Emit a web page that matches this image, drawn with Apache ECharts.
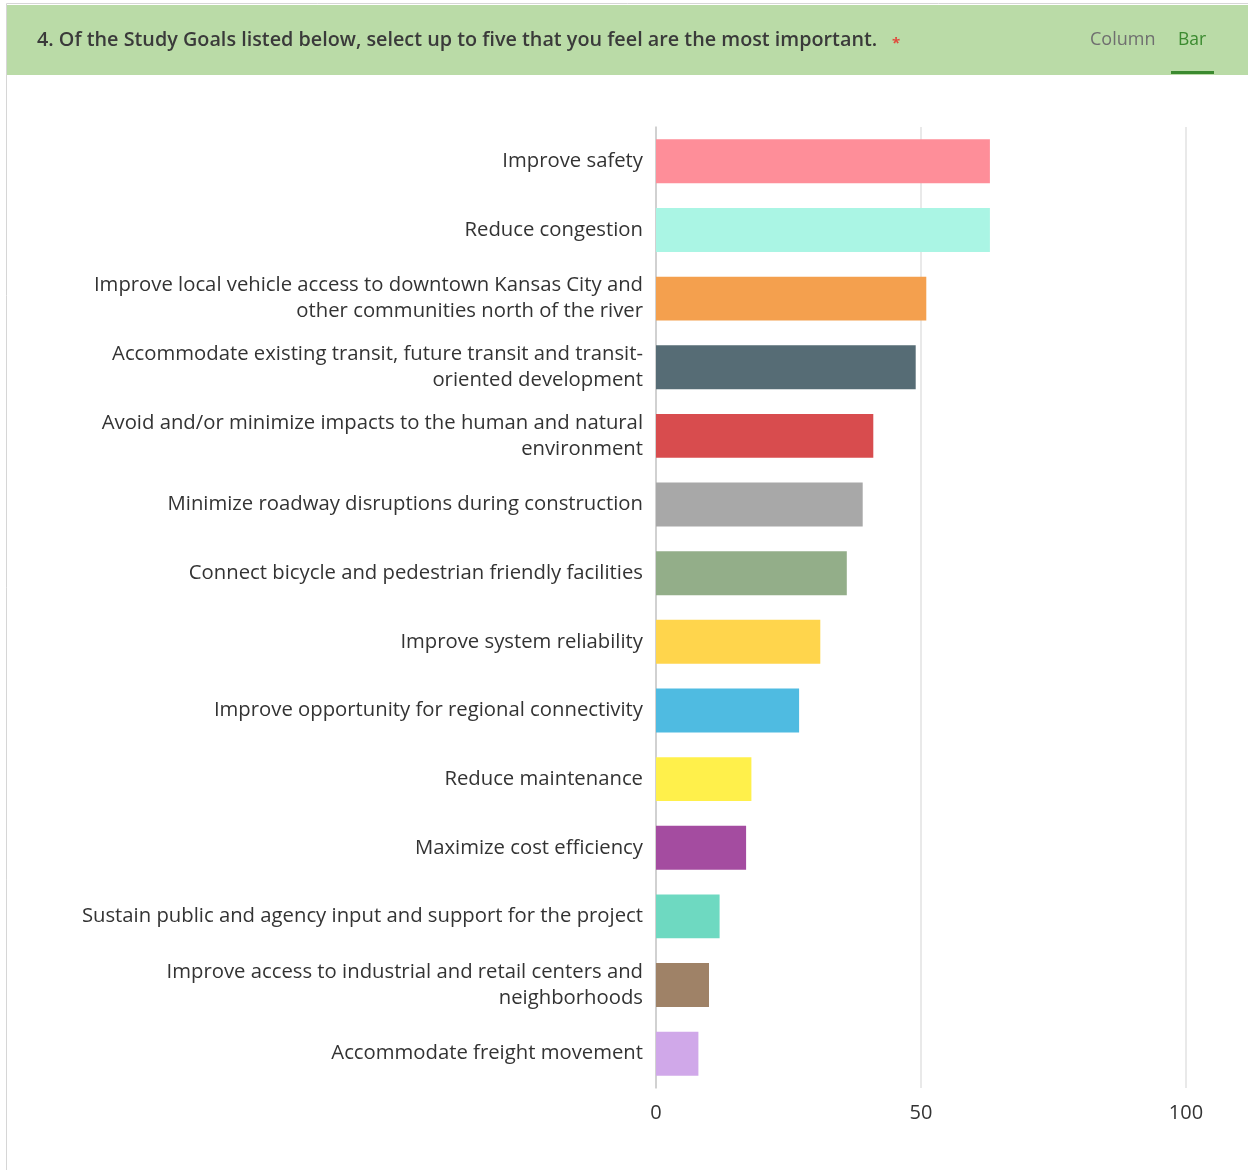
<!DOCTYPE html>
<html>
<head>
<meta charset="utf-8">
<script src="https://cdn.jsdelivr.net/npm/echarts@6/dist/echarts.min.js"></script>
<style>
  html, body { margin: 0; padding: 0; background: #fff; }
  #chart { width: 1248px; height: 1170px; }
</style>
</head>
<body>
<div id="chart"></div>
<script>
// Survey question 4: number of respondents choosing each study goal
const questionText = '4. Of the Study Goals listed below, select up to five that you feel are the most important.';

const goals = [
  'Improve safety',
  'Reduce congestion',
  'Improve local vehicle access to downtown Kansas City and\nother communities north of the river',
  'Accommodate existing transit, future transit and transit-\noriented development',
  'Avoid and/or minimize impacts to the human and natural\nenvironment',
  'Minimize roadway disruptions during construction',
  'Connect bicycle and pedestrian friendly facilities',
  'Improve system reliability',
  'Improve opportunity for regional connectivity',
  'Reduce maintenance',
  'Maximize cost efficiency',
  'Sustain public and agency input and support for the project',
  'Improve access to industrial and retail centers and\nneighborhoods',
  'Accommodate freight movement'
];

const responses = [63, 63, 51, 49, 41, 39, 36, 31, 27, 18, 17, 12, 10, 8];

const barColors = [
  '#fe8e99', '#aaf5e4', '#f4a04e', '#566c75', '#d84c4e', '#a8a8a8', '#93ae89',
  '#ffd54c', '#4fbbe1', '#fff04b', '#a44ca0', '#6ed9c1', '#9f8267', '#d0a8e9'
];

const xTicks = [0, 50, 100];

const labelFont = '"Open Sans", Lato, sans-serif';

const chart = echarts.init(document.getElementById('chart'), null, { renderer: 'canvas' });

chart.setOption({
  animation: false,
  backgroundColor: '#ffffff',
  textStyle: { fontFamily: labelFont },
  graphic: [
    { type: 'rect', shape: { x: 6.5, y: 3.5, width: 1260, height: 1180 },
      style: { fill: 'none', stroke: '#d6d6d6', lineWidth: 1 }, silent: true },
    { type: 'rect', shape: { x: 7, y: 5, width: 1241, height: 70 },
      style: { fill: '#badba7' }, silent: true },
    { type: 'text', x: 37, y: 40,
      style: { text: questionText, fontFamily: labelFont, fontSize: 19.8, fontWeight: 600,
               fill: '#3a3a3a', verticalAlign: 'middle' } },
    { type: 'text', x: 892, y: 44,
      style: { text: '*', fontFamily: labelFont, fontSize: 15, fontWeight: 'bold', fill: '#e0493b',
               verticalAlign: 'middle' } },
    { type: 'text', x: 1090, y: 40,
      style: { text: 'Column', fontFamily: labelFont, fontSize: 18, fill: '#6f6f6f',
               verticalAlign: 'middle' } },
    { type: 'text', x: 1178, y: 40,
      style: { text: 'Bar', fontFamily: labelFont, fontSize: 17.5, fill: '#3b8a2f',
               verticalAlign: 'middle' } },
    { type: 'rect', shape: { x: 1171, y: 71, width: 43, height: 3 },
      style: { fill: '#3b8a2f' }, silent: true }
  ],
  grid: { left: 656, right: 62, top: 127, bottom: 82, containLabel: false },
  xAxis: {
    type: 'value',
    min: 0,
    max: xTicks[xTicks.length - 1],
    interval: xTicks[1] - xTicks[0],
    axisLine: { show: false },
    axisTick: { show: false },
    splitLine: { show: true, lineStyle: { color: '#e2e2e2', width: 1.5 } },
    axisLabel: { color: '#333', fontSize: 20, margin: 15, fontFamily: labelFont }
  },
  yAxis: {
    type: 'category',
    data: goals,
    inverse: true,
    axisLine: { show: true, lineStyle: { color: '#c8c8c8', width: 1.5 } },
    axisTick: { show: false },
    axisLabel: {
      color: '#333', fontSize: 20.3, lineHeight: 26, margin: 13,
      fontFamily: labelFont, align: 'right'
    }
  },
  series: [{
    type: 'bar',
    data: responses.map((v, i) => ({ value: v, itemStyle: { color: barColors[i] } })),
    barCategoryGap: '36%',
    itemStyle: { borderWidth: 0 },
    silent: true
  }]
});
</script>
</body>
</html>
